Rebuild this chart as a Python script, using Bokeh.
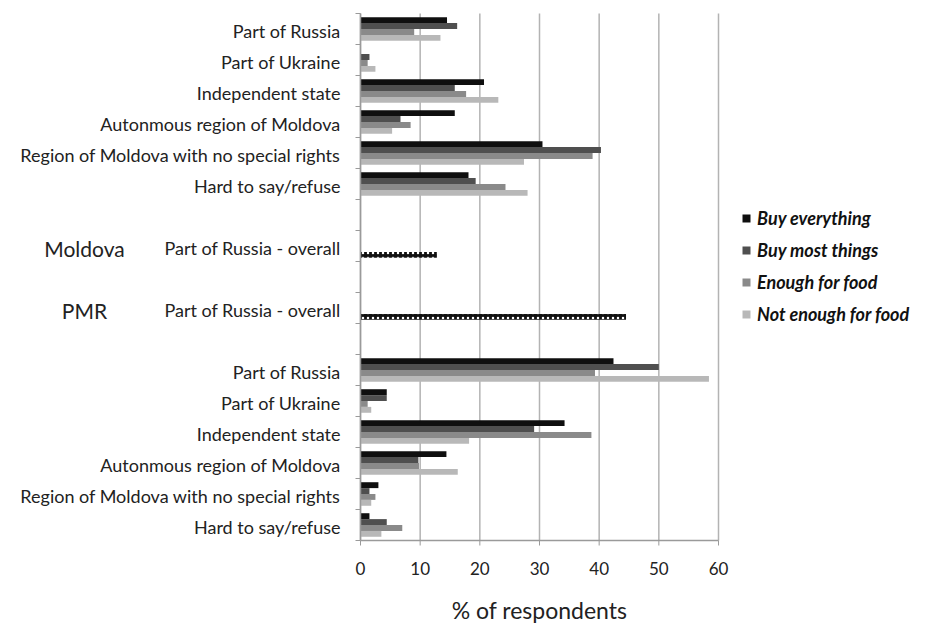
import math
from bokeh.plotting import figure
from bokeh.models import (ColumnDataSource, Legend, LegendItem, Range1d)
from bokeh.core.properties import value
from bokeh.embed import file_html
from bokeh.resources import INLINE

# ---------------- data ----------------
categories = ["Part of Russia", "Part of Ukraine", "Independent state",
              "Autonmous region of Moldova", "Region of Moldova with no special rights",
              "Hard to say/refuse"]
series_names = ["Buy everything", "Buy most things", "Enough for food", "Not enough for food"]
series_colors = ["#0f0f0f", "#4f4f4f", "#8a8a8a", "#b8b8b8"]

moldova_buy_everything = [14.5, 0.0, 20.7, 15.8, 30.5, 18.1]
moldova_buy_most = [16.2, 1.5, 15.8, 6.7, 40.3, 19.3]
moldova_enough_food = [9.0, 1.2, 17.7, 8.4, 38.9, 24.3]
moldova_not_enough = [13.4, 2.5, 23.1, 5.3, 27.4, 28.0]

pmr_buy_everything = [42.4, 4.4, 34.2, 14.4, 3.0, 1.5]
pmr_buy_most = [50.0, 4.4, 29.1, 9.7, 1.5, 4.4]
pmr_enough_food = [39.3, 1.2, 38.7, 9.8, 2.5, 7.0]
pmr_not_enough = [58.4, 1.8, 18.2, 16.3, 1.8, 3.5]

overall_label = "Part of Russia - overall"
overall_groups = ["Moldova", "PMR"]
overall_values = [12.8, 44.5]

x_ticks = [0, 10, 20, 30, 40, 50, 60]
x_title = "% of respondents"

# ---------------- layout ----------------
W, H = 916, 625
FRAME_TOP, AXIS_PX = 13, 540          # pixel rows of the top of the chart and of the x axis
X0_PX, XMAX_PX = 360, 718             # pixel columns of value 0 and value 60
ppu = (XMAX_PX - X0_PX) / (x_ticks[-1] - x_ticks[0])

n_slots = 17
ppslot = (AXIS_PX - FRAME_TOP) / n_slots
moldova_slots = [0, 1, 2, 3, 4, 5]
overall_slots = [7, 9]
pmr_slots = [11, 12, 13, 14, 15, 16]
margin, bh = 0.12, 0.19

def center(slot):
    return n_slots - slot - 0.5

def bar_y(slot, j):
    return n_slots - slot - (margin + bh * (j + 0.5))

FONT = "Lato"
TXT = "#222222"
AXC = "#9a9a9a"
GRC = "#b3b3b3"

p = figure(width=W, height=H, output_backend="svg", toolbar_location=None,
           x_range=Range1d(-X0_PX / ppu, (W - X0_PX) / ppu),
           y_range=Range1d(-(H - AXIS_PX) / ppslot, n_slots + FRAME_TOP / ppslot),
           min_border=0)
p.outline_line_color = None
p.background_fill_color = "white"
p.border_fill_color = "white"
p.xaxis.visible = False
p.yaxis.visible = False
p.grid.visible = False

# vertical grid lines at the value ticks
p.segment(x0=x_ticks, x1=x_ticks, y0=[0] * len(x_ticks), y1=[n_slots] * len(x_ticks),
          line_color=GRC, line_width=1.5)

moldova_series = [moldova_buy_everything, moldova_buy_most, moldova_enough_food, moldova_not_enough]
pmr_series = [pmr_buy_everything, pmr_buy_most, pmr_enough_food, pmr_not_enough]

renderers = []
for j, name in enumerate(series_names):
    ys = [bar_y(s, j) for s in moldova_slots] + [bar_y(s, j) for s in pmr_slots]
    xs = list(moldova_series[j]) + list(pmr_series[j])
    src = ColumnDataSource(dict(y=ys, right=xs))
    r = p.hbar(y="y", right="right", left=0, height=bh, source=src,
               fill_color=series_colors[j], line_color=None)
    renderers.append(r)

osrc = ColumnDataSource(dict(y=[bar_y(s, 3) for s in overall_slots], right=overall_values))
p.hbar(y="y", right="right", left=0, height=bh, source=osrc,
       fill_color="#111111", line_color=None,
       hatch_pattern="dot", hatch_color="white", hatch_scale=5, hatch_weight=1)

# ---------------- y axis ----------------
p.segment(x0=[0], x1=[0], y0=[0], y1=[n_slots], line_color=AXC, line_width=1.5)
p.ray(x=[0] * (n_slots + 1), y=list(range(n_slots + 1)), length=5, angle=math.pi,
      length_units="screen", line_color=AXC, line_width=1)

centers = [center(s) for s in moldova_slots + overall_slots + pmr_slots]
labels = categories + [overall_label] * len(overall_slots) + categories
p.text(x=[0] * len(centers), y=centers, text=labels, x_offset=-20, y_offset=2,
       text_align="right", text_baseline="middle", text_font=value(FONT),
       text_font_size="18px", text_color=TXT)

p.text(x=[0] * len(overall_slots), y=[center(s) for s in overall_slots], text=overall_groups,
       x_offset=-276, y_offset=2, text_align="center", text_baseline="middle",
       text_font=value(FONT), text_font_size="21px", text_color=TXT)

# ---------------- x axis ----------------
p.segment(x0=[x_ticks[0]], x1=[x_ticks[-1]], y0=[0], y1=[0], line_color=AXC, line_width=1.5)
p.ray(x=x_ticks, y=[0] * len(x_ticks), length=5, angle=-math.pi / 2,
      length_units="screen", line_color=AXC, line_width=1)
p.text(x=x_ticks, y=[0] * len(x_ticks), text=[str(t) for t in x_ticks], y_offset=28,
       text_align="center", text_baseline="middle", text_font=value(FONT),
       text_font_size="17px", text_color=TXT)
p.text(x=[(x_ticks[0] + x_ticks[-1]) / 2], y=[0], text=[x_title], y_offset=69,
       text_align="center", text_baseline="middle", text_font=value(FONT),
       text_font_size="23px", text_color=TXT)

legend = Legend(items=[LegendItem(label=n, renderers=[r]) for n, r in zip(series_names, renderers)],
                location=(741, (H - AXIS_PX) + 215), border_line_color=None, background_fill_alpha=0,
                padding=0, margin=0, spacing=10, glyph_width=10, glyph_height=10,
                label_standoff=6, label_text_font=FONT, label_text_font_size="18px",
                label_text_font_style="bold italic", label_height=22, label_text_color="#111111")
p.add_layout(legend, "center")

open("out.html", "w").write(file_html(p, INLINE))
